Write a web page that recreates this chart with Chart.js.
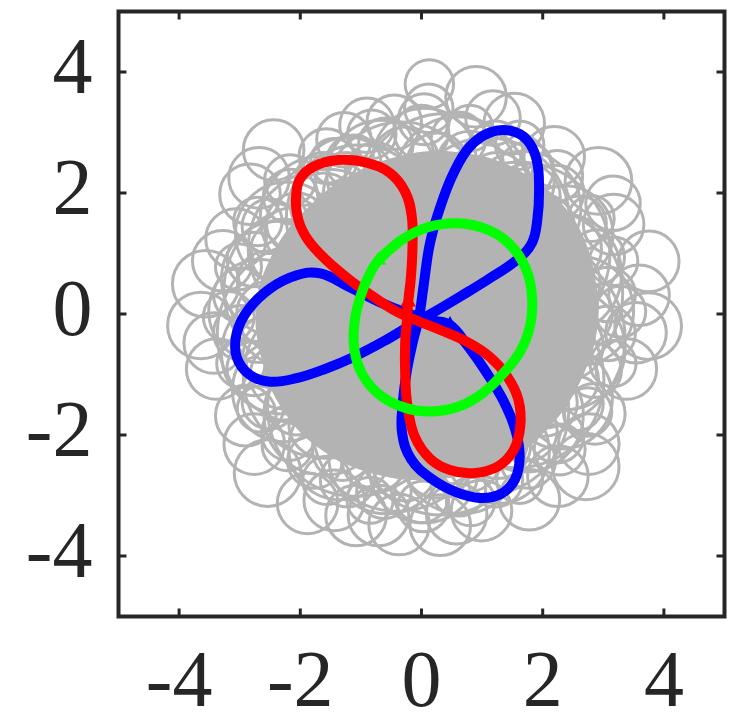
<!DOCTYPE html>
<html>
<head>
<meta charset="utf-8">
<script src="https://cdn.jsdelivr.net/npm/chart.js@4.4.1/dist/chart.umd.min.js"></script>
<style>
  html, body { margin: 0; padding: 0; background: #fff; }
  canvas { display: block; }
</style>
</head>
<body>
<canvas id="orbit" width="736" height="715"></canvas>
<script>
const tickValues = [-4, -2, 0, 2, 4];

// dense middle of the gray trajectory
const coreX = [2.9, 2.75, 2.3, 1.5, 0.6, -0.3, -1.2, -1.85, -2.4, -2.7, -2.6, -2.25, -1.6, -0.65, 0.3, 1.2, 1.95, 2.6];
const coreY = [0.0, 1.0, 1.8, 2.4, 2.65, 2.6, 2.25, 1.75, 1.05, 0.15, -0.8, -1.6, -2.25, -2.65, -2.7, -2.5, -2.0, -1.1];

// long sweeping gray loops through the middle
const arcX = [1.87, 1.61, 1.09, 0.40, -0.33, -1.03, -1.56, -1.86, -1.87, -1.59, -1.09, -0.40, 0.33, 1.03, 1.56, 1.86];
const arcY = [0.33, 1.01, 1.56, 1.86, 1.87, 1.59, 1.09, 0.40, -0.33, -1.03, -1.56, -1.86, -1.87, -1.59, -1.09, -0.40];
const arcR = [1.45, 1.50, 1.35, 1.45, 1.30, 1.20, 1.30, 1.40, 1.50, 1.35, 1.45, 1.40, 1.45, 1.40, 1.45, 1.50];

// gray loops around the middle (centre x, centre y, radius in axis units)
const meshX = [2.60, 2.30, 2.36, 1.68, 1.34, 0.58, 0.05, -0.66, -1.22, -1.66, -2.22, -2.35, -2.66, -2.30, -2.27, -1.60, -1.34, -0.58, 0.04, 0.66, 1.26, 1.72, 2.30, 2.36,
               2.60, 2.45, 2.42, 2.02, 1.74, 1.25, 0.80, 0.26, -0.27, -0.76, -1.25, -1.61, -2.06, -2.28, -2.54, -2.50, -2.54, -2.28, -2.06, -1.64, -1.30, -0.77, -0.27, 0.26, 0.79, 1.25, 1.74, 2.02, 2.42, 2.45,
               3.08, 2.90, 2.60, 2.23, 1.73, 1.22, 0.61, 0.00, -0.59, -1.12, -1.62, -2.16, -2.51, -2.76, -2.98, -2.98, -2.76, -2.51, -2.19, -1.76, -1.22, -0.62, 0.00, 0.61, 1.22, 1.76, 2.23, 2.55, 2.85, 3.08];
const meshY = [0.05, 0.66, 1.32, 1.74, 2.21, 2.26, 2.55, 2.30, 2.12, 1.60, 1.33, 0.58, 0.05, -0.65, -1.26, -1.66, -2.22, -2.35, -2.55, -2.30, -2.28, -1.66, -1.38, -0.58,
               0.00, 0.52, 1.08, 1.47, 1.93, 2.17, 2.47, 2.49, 2.54, 2.33, 2.17, 1.78, 1.50, 1.02, 0.54, 0.00, -0.54, -1.02, -1.50, -1.82, -2.25, -2.38, -2.59, -2.49, -2.43, -2.17, -1.93, -1.47, -1.08, -0.52,
               0.32, 0.94, 1.50, 2.01, 2.39, 2.74, 2.89, 3.00, 2.79, 2.51, 2.22, 1.94, 1.45, 0.90, 0.31, -0.31, -0.90, -1.45, -1.97, -2.43, -2.74, -2.93, -3.00, -2.89, -2.74, -2.43, -2.01, -1.48, -0.93, -0.32];
const meshR = [0.90, 1.00, 0.80, 0.95, 0.85, 1.00, 0.85, 0.90, 0.80, 1.00, 0.85, 0.95, 0.85, 1.00, 0.85, 1.00, 0.85, 0.95, 0.90, 1.00, 0.85, 0.95, 0.85, 1.00,
               0.55, 0.50, 0.55, 0.50, 0.55, 0.50, 0.55, 0.50, 0.55, 0.50, 0.50, 0.55, 0.50, 0.55, 0.50, 0.55, 0.50, 0.55, 0.50, 0.55, 0.50, 0.55, 0.50, 0.55, 0.50, 0.55, 0.50, 0.55, 0.50, 0.55,
               0.45, 0.45, 0.45, 0.45, 0.45, 0.45, 0.45, 0.45, 0.45, 0.45, 0.45, 0.45, 0.45, 0.45, 0.45, 0.45, 0.45, 0.45, 0.45, 0.45, 0.45, 0.45, 0.45, 0.45, 0.45, 0.45, 0.45, 0.45, 0.45, 0.45];

// small loops on the rim of the dense part
const rimX = [3.28, 3.17, 2.80, 2.24, 1.62, 0.80, 0.04, -0.82, -1.45, -2.17, -2.70, -3.02, -3.18, -2.98, -2.66, -2.21, -1.56, -0.85, 0.03, 0.81, 1.62, 2.28, 2.74, 3.16];
const rimY = [0.04, 0.87, 1.58, 2.28, 2.79, 3.07, 3.22, 2.97, 2.52, 2.21, 1.53, 0.78, -0.05, -0.82, -1.57, -2.17, -2.75, -3.08, -3.18, -3.10, -2.75, -2.24, -1.62, -0.82];
const rimR = [0.42, 0.40, 0.38, 0.42, 0.40, 0.38, 0.42, 0.40, 0.38, 0.42, 0.40, 0.38, 0.42, 0.40, 0.38, 0.42, 0.40, 0.38, 0.42, 0.40, 0.38, 0.42, 0.40, 0.38];

// outer petals of the gray trajectory
const outerX = [3.74, 3.75, 3.17, 2.92, 2.19, 1.53, 0.90, 0.13, 0.12, -0.45, -0.90, -1.57, -2.44, -2.83, -3.06, -3.56, -3.64, -3.38, -2.90, -2.54, -1.88, -1.08,
                -0.37, 0.31, 0.99, 1.78, 2.71, 2.86, 3.38, 3.59, 3.16, 1.18, -1.28, -2.68, -3.28, -3.42, -2.76, -1.44, -0.71, 0.58, 2.25, 2.76, 3.54];
const outerY = [-0.20, 0.87, 1.48, 2.20, 2.60, 3.15, 3.59, 3.80, 3.40, 3.17, 3.12, 2.61, 2.71, 1.98, 1.24, 0.50, -0.19, -0.91, -1.68, -2.63, -3.13, -3.33,
                -3.48, -3.49, -3.25, -3.07, -2.52, -1.65, -0.91, 0.31, 1.83, 3.24, 2.88, 2.25, 0.88, -0.48, -2.15, -3.08, -3.33, -3.30, -2.68, -2.15, -0.31];
const outerR = [0.55, 0.50, 0.50, 0.55, 0.50, 0.50, 0.50, 0.40, 0.40, 0.45, 0.45, 0.45, 0.50, 0.50, 0.50, 0.55, 0.55, 0.50, 0.50, 0.55, 0.50, 0.50,
                0.50, 0.50, 0.50, 0.50, 0.55, 0.50, 0.50, 0.50, 0.45, 0.45, 0.45, 0.50, 0.50, 0.50, 0.50, 0.50, 0.50, 0.50, 0.50, 0.50, 0.50];

// three highlighted periodic orbits
const blueX = [0.47, 0.78, 1.08, 1.36, 1.55, 1.62, 1.54, 1.30, 0.96, 0.58, 0.16, -0.17, -0.32, -0.31, -0.24, -0.14, -0.04, 0.04, 0.14, 0.31, 0.53, 0.80,
               1.13, 1.46, 1.74, 1.90, 1.94, 1.91, 1.82, 1.57, 1.08, 0.64, 0.22, -0.15, -0.62, -1.12, -1.57, -2.06, -2.50, -2.83, -3.05, -3.05, -2.86, -2.50,
               -2.06, -1.67, -1.20, -0.70, -0.25, 0.15];
const blueY = [-0.18, -0.55, -0.98, -1.45, -1.92, -2.36, -2.74, -2.98, -3.04, -2.95, -2.72, -2.40, -1.97, -1.48, -0.93, -0.45, -0.05, 0.51, 1.17, 1.77, 2.33, 2.77,
               3.00, 3.03, 2.88, 2.55, 2.05, 1.55, 1.17, 0.89, 0.56, 0.29, 0.04, -0.17, -0.45, -0.71, -0.90, -1.06, -1.12, -1.01, -0.71, -0.32, 0.07, 0.42,
               0.64, 0.67, 0.45, 0.20, 0.02, -0.10];

const redX = [-0.22, -0.18, -0.15, -0.16, -0.27, -0.52, -0.90, -1.29, -1.68, -1.98, -2.07, -2.03, -1.87, -1.57, -1.18, -0.80, -0.41, -0.05, 0.30, 0.75,
              1.13, 1.42, 1.60, 1.63, 1.52, 1.26, 0.86, 0.47, 0.14, -0.11, -0.23, -0.27, -0.27, -0.24];
const redY = [0.20, 0.55, 1.06, 1.61, 2.02, 2.33, 2.50, 2.55, 2.48, 2.27, 1.94, 1.55, 1.22, 0.89, 0.56, 0.29, 0.04, -0.12, -0.26, -0.46,
              -0.71, -1.04, -1.42, -1.86, -2.25, -2.52, -2.63, -2.58, -2.39, -2.03, -1.53, -0.98, -0.48, -0.10];

const greenX = [-0.71, -0.35, 0.09, 0.58, 1.08, 1.45, 1.71, 1.82, 1.80, 1.64, 1.35, 1.02, 0.64, 0.19, -0.24, -0.66, -0.97, -1.11, -1.10, -0.99, -0.85];
const greenY = [0.89, 1.21, 1.43, 1.50, 1.40, 1.16, 0.78, 0.34, -0.15, -0.60, -0.98, -1.30, -1.52, -1.61, -1.56, -1.36, -1.01, -0.57, -0.10, 0.34, 0.67];

const GRAY = '#b3b3b3';
const INK = '#262626';

const pts = (xs, ys) => xs.map((x, i) => ({ x: x, y: ys[i] }));
// repeat the first two points so the closing segment bends smoothly
const closed = (xs, ys) => { const p = pts(xs, ys); return p.concat(p.slice(0, 2)); };

function unitPx(chart) {
    const s = chart.scales.x;
    if (!s || !s.width) return 0;
    return Math.abs(s.getPixelForValue(1) - s.getPixelForValue(0));
}

function loopSet(xs, ys, rs, order) {
    return {
        type: 'scatter',
        data: pts(xs, ys),
        showLine: false,
        pointStyle: 'circle',
        pointRadius: c => c.dataIndex == null ? 0 : rs[c.dataIndex] * unitPx(c.chart),
        pointBackgroundColor: 'rgba(0,0,0,0)',
        pointBorderColor: GRAY,
        pointBorderWidth: 3,
        order: order
    };
}

function orbitSet(xs, ys, color, order) {
    return {
        type: 'line',
        data: closed(xs, ys),
        borderColor: color,
        backgroundColor: color,
        borderWidth: 10,
        borderJoinStyle: 'round',
        borderCapStyle: 'round',
        tension: 0.4,
        fill: false,
        pointStyle: 'triangle',
        pointRadius: c => c.dataIndex === 0 ? 9 : 0,
        pointBorderWidth: 0,
        order: order
    };
}

// box with inward ticks on all four sides
const framePlugin = {
    id: 'frame',
    afterDraw(chart) {
        const { ctx, chartArea: a, scales } = chart;
        const len = 8;
        ctx.save();
        ctx.strokeStyle = INK;
        ctx.lineWidth = 3;
        ctx.beginPath();
        tickValues.forEach(v => {
            const px = scales.x.getPixelForValue(v);
            const py = scales.y.getPixelForValue(v);
            ctx.moveTo(px, a.bottom); ctx.lineTo(px, a.bottom - len);
            ctx.moveTo(px, a.top); ctx.lineTo(px, a.top + len);
            ctx.moveTo(a.left, py); ctx.lineTo(a.left + len, py);
            ctx.moveTo(a.right, py); ctx.lineTo(a.right - len, py);
        });
        ctx.stroke();
        ctx.lineWidth = 4;
        ctx.strokeRect(a.left, a.top, a.right - a.left, a.bottom - a.top);
        ctx.restore();
    }
};

const tickFont = { family: '"Liberation Serif", "Times New Roman", Times, serif', size: 80 };

new Chart(document.getElementById('orbit'), {
    type: 'scatter',
    data: {
        datasets: [
            orbitSet(greenX, greenY, '#00ff00', 0),
            orbitSet(redX, redY, '#ff0000', 1),
            orbitSet(blueX, blueY, '#0000ff', 2),
            loopSet(outerX, outerY, outerR, 3),
            loopSet(rimX, rimY, rimR, 4),
            loopSet(meshX, meshY, meshR, 5),
            loopSet(arcX, arcY, arcR, 6),
            {
                type: 'line',
                data: closed(coreX, coreY),
                borderColor: GRAY,
                backgroundColor: GRAY,
                borderWidth: 3,
                tension: 0.4,
                fill: 'shape',
                pointRadius: 0,
                order: 7
            }
        ]
    },
    options: {
        responsive: false,
        animation: false,
        events: [],
        layout: {
            autoPadding: false,
            padding: { top: 11.5, right: 11.5, left: 0, bottom: 0 }
        },
        scales: {
            x: {
                type: 'linear',
                min: -5,
                max: 5,
                afterBuildTicks: scale => { scale.ticks = tickValues.map(v => ({ value: v })); },
                afterFit: scale => {
                    scale.height = 98.5;
                    scale.paddingLeft = 0;
                    scale.paddingRight = 0;
                },
                grid: { display: false, drawTicks: false },
                border: { display: false },
                ticks: {
                    font: tickFont,
                    color: INK,
                    padding: 20,
                    maxRotation: 0,
                    callback: v => String(v)
                }
            },
            y: {
                type: 'linear',
                min: -5,
                max: 5,
                afterBuildTicks: scale => { scale.ticks = tickValues.map(v => ({ value: v })); },
                afterFit: scale => {
                    scale.width = 118.5;
                    scale.paddingTop = 0;
                    scale.paddingBottom = 0;
                },
                grid: { display: false, drawTicks: false },
                border: { display: false },
                ticks: {
                    font: tickFont,
                    color: INK,
                    padding: 26,
                    callback: v => String(v)
                }
            }
        },
        plugins: {
            legend: { display: false },
            tooltip: { enabled: false }
        }
    },
    plugins: [framePlugin]
});
</script>
</body>
</html>
